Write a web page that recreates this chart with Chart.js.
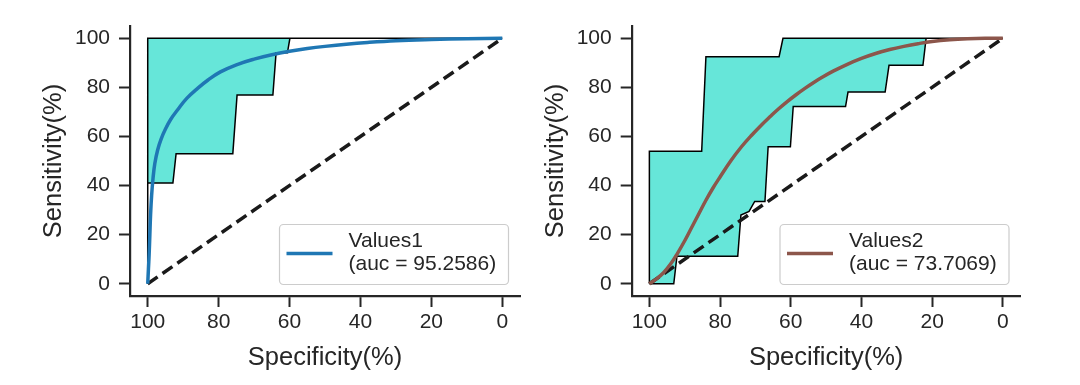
<!DOCTYPE html>
<html>
<head>
<meta charset="utf-8">
<script src="https://cdn.jsdelivr.net/npm/chart.js@4.4.0/dist/chart.umd.min.js"></script>
<style>
  body { margin: 0; background: #fff; width: 1080px; height: 385px; position: relative; overflow: hidden; }
  canvas { position: absolute; top: 0; }
  #roc1 { left: 0; }
  #roc2 { left: 520px; }
</style>
</head>
<body>
<canvas id="roc1" width="530" height="385"></canvas>
<canvas id="roc2" width="560" height="385"></canvas>
<script>
"use strict";

const specTicks = [0, 20, 40, 60, 80, 100];
const sensTicks = [0, 20, 40, 60, 80, 100];

const diagSpec = [100, 0];
const diagSens = [0, 100];

// Values1
const roc1Spec = [100, 99.8, 99.6, 99.4, 99.2, 98.9, 98.5, 98, 97.2, 96.2, 95, 93.5, 91.5, 89, 86, 83, 79.5, 75, 70, 65, 60, 55, 50, 44, 38, 30, 20, 10, 0];
const roc1Sens = [0, 6, 12, 20, 28, 36, 43, 49, 54.5, 59, 63, 67, 71, 75.5, 79.5, 83, 86.3, 89.2, 91.5, 93.3, 94.7, 95.8, 96.7, 97.6, 98.3, 99, 99.5, 99.85, 100];
const band1Spec = [100, 100, 0, 59.9, 60.6, 63.8, 64.7, 74.8, 76, 92, 92.9, 100, 100];
const band1Sens = [0, 100, 100, 100, 94.1, 94.1, 76.9, 76.9, 53, 53, 41, 41, 0];
const label1 = ['Values1', '(auc = 95.2586)'];

// Values2
const roc2Spec = [100, 98, 96, 94, 92, 90, 88, 86, 84, 82, 80, 77, 74, 71, 68, 65.9, 63.5, 61, 58.5, 56, 53.5, 51, 48, 44, 40, 36, 32, 28, 24, 20, 15, 10, 5, 0];
const roc2Sens = [0, 2, 4.5, 8, 12.5, 17.5, 23, 28.5, 34, 39, 43.5, 50, 55.7, 60.6, 65.1, 68, 71.2, 74.2, 77, 79.6, 82, 84.2, 86.6, 89.4, 91.8, 93.8, 95.4, 96.7, 97.8, 98.7, 99.4, 99.8, 100, 100];
const band2Spec = [100, 100, 85.2, 84, 63.3, 62.2, 0,
  21.7, 22.6, 32.2, 33.3, 43.8, 44.5, 59.3, 60.1, 66.4, 67.3, 70.2, 71.8, 74.1, 75, 92.2, 93.1, 100];
const band2Sens = [0, 54, 54, 92.5, 92.5, 100, 100,
  100, 89, 89, 78.1, 78.1, 72.2, 72.2, 55.8, 55.8, 33.5, 33.5, 29.5, 28, 11.2, 11.2, 0, 0];
const label2 = ['Values2', '(auc = 73.7069)'];

const FONT = '"Liberation Sans", Arial, sans-serif';
const INK = '#262626';

function toPoints(xs, ys) {
  return xs.map((x, i) => ({ x: x, y: ys[i] }));
}

const boxLegend = {
  id: 'boxLegend',
  afterDraw(chart, args, opts) {
    const ctx = chart.ctx, area = chart.chartArea;
    const w = 229, h = 60;
    const x = area.right - 11.5 - w, y = area.bottom - 11.5 - h;
    ctx.save();
    ctx.beginPath();
    ctx.roundRect(x, y, w, h, 4);
    ctx.fillStyle = 'rgba(255,255,255,0.8)';
    ctx.fill();
    ctx.strokeStyle = '#cccccc';
    ctx.lineWidth = 1.2;
    ctx.stroke();
    ctx.beginPath();
    ctx.moveTo(x + 7, y + 29);
    ctx.lineTo(x + 53, y + 29);
    ctx.strokeStyle = opts.color;
    ctx.lineWidth = 3.5;
    ctx.stroke();
    ctx.fillStyle = INK;
    ctx.font = '21px ' + FONT;
    ctx.textBaseline = 'middle';
    ctx.fillText(opts.lines[0], x + 69, y + 17);
    ctx.fillText(opts.lines[1], x + 69, y + 40);
    ctx.restore();
  }
};

function rocChart(id, o) {
  return new Chart(document.getElementById(id), {
    type: 'line',
    data: {
      datasets: [
        {
          data: toPoints(o.rocSpec, o.rocSens),
          borderColor: o.color, borderWidth: 3.5, pointRadius: 0,
          tension: 0.4, fill: false, order: 0
        },
        {
          data: toPoints(diagSpec, diagSens),
          borderColor: '#1a1a1a', borderWidth: 3.5, borderDash: [12, 6],
          pointRadius: 0, fill: false, order: 1
        },
        {
          data: toPoints(o.bandSpec, o.bandSens),
          borderColor: '#000', borderWidth: 1.5, backgroundColor: 'rgba(64,224,208,0.8)',
          pointRadius: 0, fill: 'shape', order: 2
        }
      ]
    },
    options: {
      responsive: false,
      animation: false,
      events: [],
      layout: { padding: { left: 0, top: 26, right: o.padRight, bottom: 0 } },
      plugins: {
        legend: { display: false },
        tooltip: { enabled: false },
        boxLegend: { color: o.color, lines: o.label }
      },
      scales: {
        x: {
          type: 'linear', reverse: true, min: -5, max: 105,
          afterBuildTicks: s => { s.ticks = specTicks.map(v => ({ value: v })); },
          afterFit: s => { s.height = 89; },
          grid: { drawOnChartArea: false, drawTicks: true, tickLength: 11, tickWidth: 2, tickColor: INK },
          border: { display: true, width: 2.2, color: INK },
          ticks: { font: { size: 21, family: FONT }, color: INK, padding: 3, maxRotation: 0 },
          title: { display: true, text: 'Specificity(%)', color: INK, font: { size: 25.5, family: FONT }, padding: { top: 0, bottom: 12 } }
        },
        y: {
          type: 'linear', min: -5, max: 105,
          afterBuildTicks: s => { s.ticks = sensTicks.map(v => ({ value: v })); },
          afterFit: s => { s.width = o.yWidth; },
          grid: { drawOnChartArea: false, drawTicks: true, tickLength: 11, tickWidth: 2, tickColor: INK },
          border: { display: true, width: 2.2, color: INK },
          ticks: { font: { size: 21, family: FONT }, color: INK, padding: 9 },
          title: { display: true, text: 'Sensitivity(%)', color: INK, font: { size: 25.5, family: FONT }, padding: { top: o.yTitlePad, bottom: 0 } }
        }
      }
    },
    plugins: [boxLegend]
  });
}

rocChart('roc1', {
  rocSpec: roc1Spec, rocSens: roc1Sens, bandSpec: band1Spec, bandSens: band1Sens,
  color: '#1f77b4', label: label1, yWidth: 130, padRight: 10, yTitlePad: 39
});
rocChart('roc2', {
  rocSpec: roc2Spec, rocSens: roc2Sens, bandSpec: band2Spec, bandSens: band2Sens,
  color: '#8c564b', label: label2, yWidth: 111.7, padRight: 59.5, yTitlePad: 21
});
</script>
</body>
</html>
